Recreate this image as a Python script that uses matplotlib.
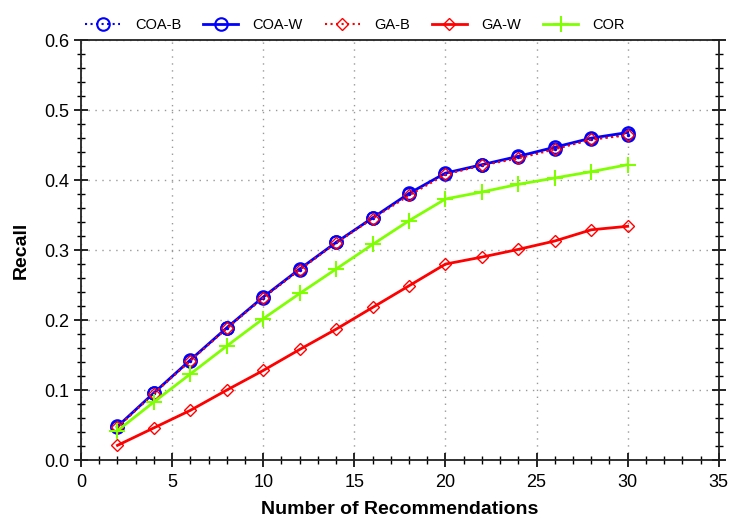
import matplotlib
matplotlib.use('Agg')
import matplotlib.pyplot as plt
from matplotlib.ticker import MultipleLocator

plt.rcParams['font.family'] = ['Liberation Sans', 'DejaVu Sans']

n_rec = [2, 4, 6, 8, 10, 12, 14, 16, 18, 20, 22, 24, 26, 28, 30]
coa_b = [0.047, 0.096, 0.142, 0.189, 0.232, 0.272, 0.311, 0.346, 0.380, 0.409, 0.421, 0.433, 0.445, 0.458, 0.465]
coa_w = [0.048, 0.096, 0.143, 0.189, 0.233, 0.273, 0.311, 0.346, 0.381, 0.410, 0.422, 0.434, 0.447, 0.460, 0.468]
ga_b = [0.047, 0.095, 0.142, 0.188, 0.232, 0.272, 0.310, 0.345, 0.378, 0.408, 0.421, 0.431, 0.444, 0.458, 0.464]
ga_w = [0.021, 0.046, 0.071, 0.100, 0.128, 0.158, 0.187, 0.218, 0.249, 0.280, 0.290, 0.301, 0.313, 0.329, 0.334]
cor = [0.042, 0.083, 0.123, 0.163, 0.202, 0.238, 0.273, 0.308, 0.342, 0.373, 0.383, 0.394, 0.403, 0.412, 0.422]

fig = plt.figure(figsize=(7.32, 5.21), dpi=100)
ax = fig.add_axes([0.1107, 0.117, 0.8713, 0.806])

h_coaw, = ax.plot(n_rec, coa_w, color='#0000ff', lw=2, marker='o', ms=9, mfc='none', mew=1.5, label='COA-W')
h_coab, = ax.plot(n_rec, coa_b, color='#0000ff', lw=1.5, ls=':', marker='o', ms=9, mfc='none', mew=1.5, label='COA-B')
ax.plot(n_rec, coa_b, color='#0000ff', ls='none', marker='.', ms=3)
h_gab, = ax.plot(n_rec, ga_b, color='#ff0000', lw=1.5, ls=':', marker='D', ms=6.5, mfc='none', mew=1, label='GA-B')
h_gaw, = ax.plot(n_rec, ga_w, color='#ff0000', lw=2, marker='D', ms=6.5, mfc='none', mew=1, label='GA-W')
h_cor, = ax.plot(n_rec, cor, color='#7fff00', lw=2, marker='+', ms=12, mew=1.5, label='COR')

ax.set_xlim(0, 35)
ax.set_ylim(0, 0.6)
ax.xaxis.set_major_locator(MultipleLocator(5))
ax.xaxis.set_minor_locator(MultipleLocator(1))
ax.yaxis.set_major_locator(MultipleLocator(0.1))
ax.yaxis.set_minor_locator(MultipleLocator(0.02))
ax.yaxis.set_major_formatter(plt.FormatStrFormatter('%.1f'))
ax.tick_params(which='major', direction='inout', length=10, width=1.2, labelsize=13, right=True, top=False)
ax.tick_params(which='minor', direction='inout', length=6, width=1, right=True, top=False)
ax.tick_params(axis='x', which='major', pad=5)
ax.grid(True, which='major', ls=(0, (1, 4)), color='#999999', lw=1)
for s in ax.spines.values():
    s.set_linewidth(1.3)
    s.set_color('#222222')

ax.set_xlabel('Number of Recommendations', fontsize=14, fontweight='bold', labelpad=7)
ax.set_ylabel('Recall', fontsize=14, fontweight='bold', labelpad=10)

ax.legend(handles=[h_coab, h_coaw, h_gab, h_gaw, h_cor], ncol=5, frameon=False,
          loc='lower center', bbox_to_anchor=(0.43, 1.005), fontsize=10.5,
          handlelength=2.4, handletextpad=1.0, columnspacing=1.5, borderaxespad=0)

fig.savefig('out.png', dpi=100)
